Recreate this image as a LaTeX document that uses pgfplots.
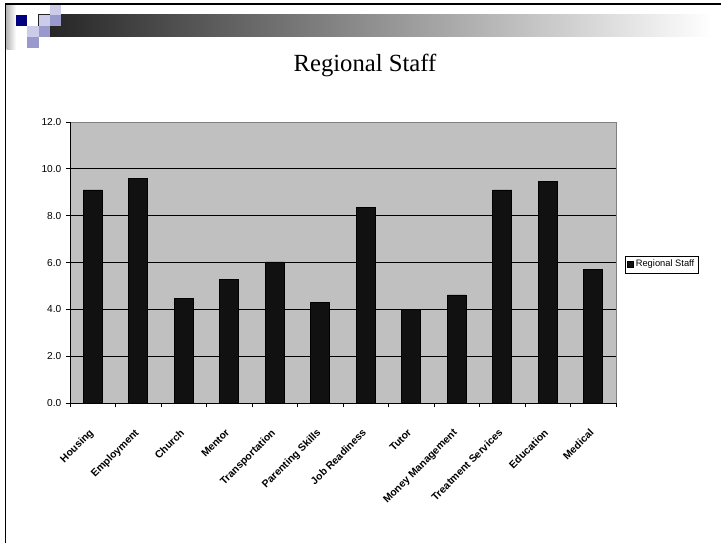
\documentclass[border=0pt]{standalone}
\usepackage{pgfplots}
\pgfplotsset{compat=1.18}
\usepackage{fontspec}
\setmainfont{Liberation Sans}
\newfontfamily\titlefont{Liberation Serif}
\definecolor{plotbg}{HTML}{C0C0C0}
\definecolor{barfill}{HTML}{111111}
\definecolor{lav}{HTML}{CCCCEA}
\definecolor{lavmid}{HTML}{9999CC}
\definecolor{navy}{HTML}{000080}
\definecolor{dkbar}{HTML}{222222}
\begin{document}
\begin{tikzpicture}[x=0.75pt,y=0.75pt]
\useasboundingbox (0,0) rectangle (721,543);
\fill[white] (0,0) rectangle (721,543);
% slide decoration
\shade[left color=black!28, right color=white] (6.5,493) rectangle (16,538);
\shade[left color=dkbar, right color=white] (38,506) rectangle (712,528);
\fill[lav] (50,528) rectangle (61,538);
\fill[navy] (16,517) rectangle (27,528);
\fill[lav] (39,517) rectangle (50,528);
\fill[lavmid] (50,517) rectangle (61,528);
\fill[lav] (27,506) rectangle (39,517);
\fill[lavmid] (39,506) rectangle (50,517);
\fill[lavmid] (27,495) rectangle (39,506);
\draw[line width=1.4pt] (5.5,0) -- (5.5,538.8) -- (721,538.8);
% title
\node[anchor=base] at (365,471) {\titlefont\fontsize{18.5}{20}\selectfont Regional Staff};
\begin{axis}[
  at={(52.5pt,104.8pt)}, anchor=south west,
  scale only axis, width=409.5pt, height=211pt,
  xmin=-0.5, xmax=11.5, ymin=0, ymax=12,
  axis x line*=bottom, axis y line*=left,
  axis line style={black, line width=0.6pt},
  axis background/.style={fill=plotbg, draw=gray, line width=0.5pt},
  ytick={0,2,...,10},
  extra y ticks={12}, extra y tick style={grid=none},
  ymajorgrids, grid style={black, line width=0.6pt},
  yticklabel style={font=\fontsize{7.6}{8}\selectfont},
  y tick label style={/pgf/number format/fixed, /pgf/number format/fixed zerofill, /pgf/number format/precision=1, /pgf/number format/assume math mode=true},
  xtick={-0.5,0.5,...,11.5}, xticklabels={},
  extra x ticks={0,1,2,3,4,5,6,7,8,9,10,11},
  extra x tick labels={Housing,Employment,Church,Mentor,Transportation,Parenting Skills,Job Readiness,Tutor,Money Management,Treatment Services,Education,Medical},
  extra x tick style={major tick length=0pt, tick label style={font=\bfseries\fontsize{7.8}{8}\selectfont, rotate=45, anchor=north east, xshift=-12pt, yshift=-7.5pt}},
  tick align=outside, major tick length=3pt,
  tick style={black, line width=0.6pt},
  ybar, bar width=14.25pt,
  legend style={at={(1.0165,0.493)}, anchor=west, draw=black, fill=white, font=\fontsize{7}{8}\selectfont, inner sep=1pt, row sep=0pt},
  legend image code/.code={\draw[fill=barfill, draw=black] (0pt,-2.3pt) rectangle (4.5pt,2.3pt);},
]
\addplot[fill=barfill, draw=black, line width=0.4pt] coordinates {
(0,9.1) (1,9.6) (2,4.48) (3,5.29) (4,6.03) (5,4.31) (6,8.35) (7,4.0) (8,4.62) (9,9.1) (10,9.47) (11,5.72)};
\addlegendentry{Regional Staff}
\end{axis}
\end{tikzpicture}
\end{document}
